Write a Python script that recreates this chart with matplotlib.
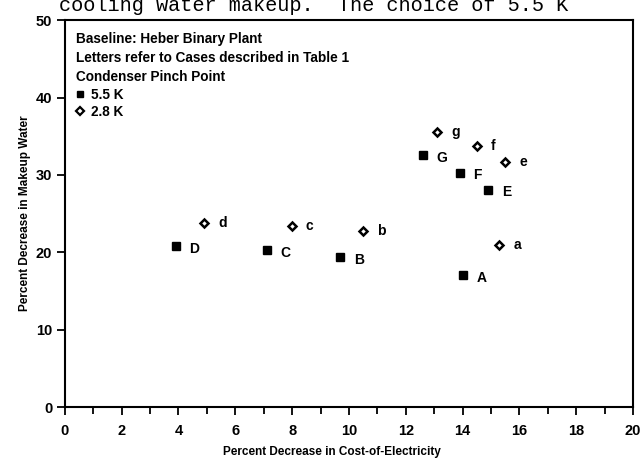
#IMPORT LIBRARIES
import numpy as np
import matplotlib
matplotlib.use("Agg")
import matplotlib.pyplot as plt
from matplotlib.lines import Line2D
from matplotlib.ticker import MultipleLocator

#DATA
cases_55 = ["A", "B", "C", "D", "E", "F", "G"]
coe_55 = [14.0, 9.7, 7.1, 3.9, 14.9, 13.9, 12.6]
water_55 = [17.1, 19.4, 20.3, 20.8, 28.1, 30.3, 32.6]

cases_28 = ["a", "b", "c", "d", "e", "f", "g"]
coe_28 = [15.3, 10.5, 8.0, 4.9, 15.5, 14.5, 13.1]
water_28 = [20.9, 22.7, 23.4, 23.8, 31.7, 33.7, 35.5]

note_lines = ["Baseline: Heber Binary Plant",
              "Letters refer to Cases described in Table 1",
              "Condenser Pinch Point"]
series_labels = ["5.5 K", "2.8 K"]
page_text = "cooling water makeup.  The choice of 5.5 K"

#FONT
plt.rcParams["font.family"] = ["Liberation Sans", "DejaVu Sans"]
plt.rcParams["font.weight"] = "bold"

#FIGURE LAYOUT
fig = plt.figure(figsize=(6.42, 4.58), dpi=100)
ax = fig.add_axes([0.101, 0.111, 0.885, 0.845])

#POINTS
ax.plot(coe_55, water_55, ls="none", marker="s", ms=5.2, color="black")
ax.plot(coe_28, water_28, ls="none", marker="D", ms=4.0, mfc="white",
        mec="black", mew=1.8)

#CASE LETTERS
for x, y, s in zip(coe_55, water_55, cases_55):
    ax.annotate(s, (x, y), xytext=(10, -2), textcoords="offset points",
                va="center", ha="left", fontsize=10, fontweight="bold")
for x, y, s in zip(coe_28, water_28, cases_28):
    ax.annotate(s, (x, y), xytext=(10, 0), textcoords="offset points",
                va="center", ha="left", fontsize=10, fontweight="bold")

#AXES LIMITS AND TICKS
ax.set_xlim(0, 20)
ax.set_ylim(0, 50)
ax.xaxis.set_major_locator(MultipleLocator(2))
ax.xaxis.set_minor_locator(MultipleLocator(1))
ax.yaxis.set_major_locator(MultipleLocator(10))
ax.tick_params(axis="both", which="major", direction="out", length=6,
               width=1.3, labelsize=10.5)
ax.tick_params(axis="x", which="major", pad=6)
ax.tick_params(axis="y", which="major", pad=3)
ax.tick_params(axis="x", which="minor", direction="out", length=5, width=1.3)
for lab in ax.get_xticklabels() + ax.get_yticklabels():
    lab.set_fontweight("bold")
for sp in ax.spines.values():
    sp.set_linewidth(1.5)

#AXIS LABELS
ax.set_xlabel("Percent Decrease in Cost-of-Electricity", fontsize=8.5,
              fontweight="bold")
ax.xaxis.set_label_coords(0.47, -0.1)
ax.set_ylabel("Percent Decrease in Makeup Water", fontsize=8.5,
              fontweight="bold")
ax.yaxis.set_label_coords(-0.06, 0.5)

#NOTE BLOCK AND MARKER KEY
handles = [Line2D([], [], ls="none", marker="s", ms=4.8, color="black"),
           Line2D([], [], ls="none", marker="D", ms=4.0, mfc="white",
                  mec="black", mew=1.6)]
leg = ax.legend(handles, series_labels, title="\n".join(note_lines),
                loc="upper left", bbox_to_anchor=(0.0, 1.0), frameon=False,
                alignment="left", fontsize=9.8, handlelength=0.6,
                handletextpad=0.5, labelspacing=0.2, borderaxespad=0.45,
                title_fontproperties={"size": 9.8, "weight": "bold"})
for t in leg.get_texts():
    t.set_fontweight("bold")
leg.get_title().set_linespacing(1.45)
leg._legend_box.sep = 3

#PAGE TEXT CUT AT THE TOP OF THE SCAN
fig.text(0.092, 0.975, page_text, family="Liberation Mono", fontsize=14.6,
         fontweight="normal", va="baseline", ha="left")

fig.savefig("out.png", dpi=100)
